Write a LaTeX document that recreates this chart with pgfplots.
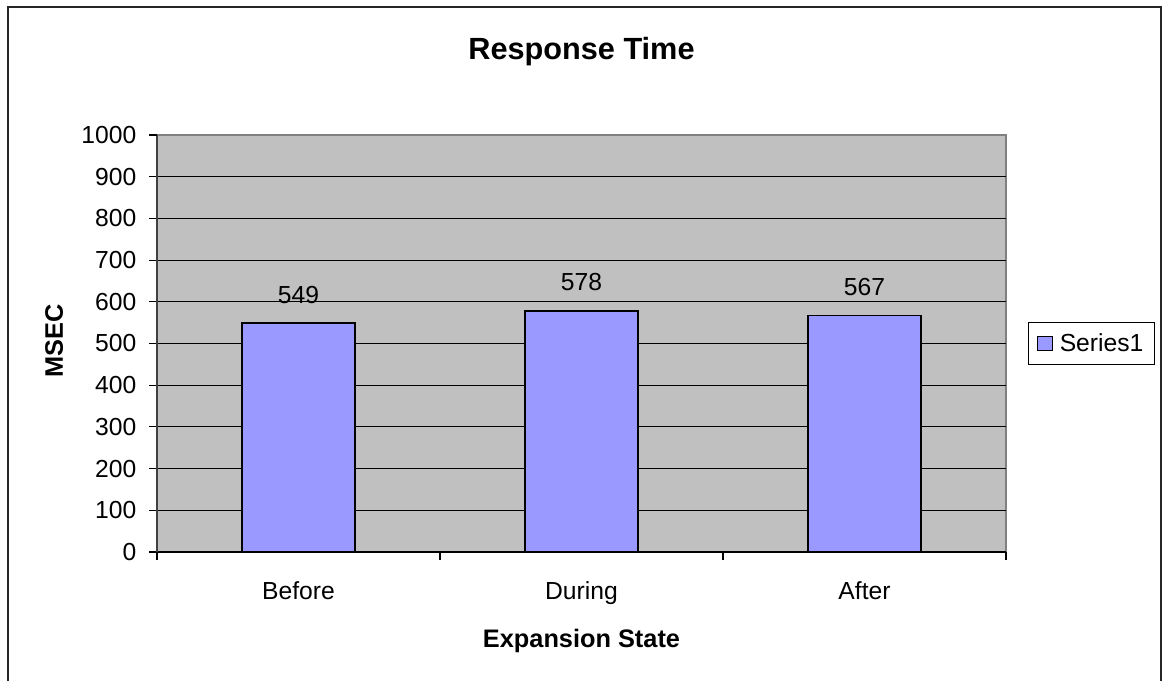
\documentclass[border=0pt]{standalone}
\usepackage{fontspec}
\setmainfont{Liberation Sans}
\usepackage{pgfplots}
\pgfplotsset{compat=1.18}

\definecolor{plotbg}{HTML}{C0C0C0}
\definecolor{barblue}{HTML}{9999FF}
\definecolor{framegray}{HTML}{808080}
\definecolor{axisgray}{HTML}{404040}

\newcommand\tickfont{\fontsize{18.5}{22}\selectfont}
\newcommand\labfont{\fontsize{19}{23}\selectfont\bfseries}
\newcommand\titfont{\fontsize{23}{27}\selectfont\bfseries}

\begin{document}
\begin{tikzpicture}
% 1 px of the reference = 0.75pt
\useasboundingbox (0,0) rectangle (875.25pt,510.75pt);
\draw[line width=1.5pt, black!85] (6pt,-5pt) -- (6pt,505.5pt) -- (870.75pt,505.5pt) -- (870.75pt,-5pt);

\begin{axis}[
    at={(117.75pt,96.75pt)}, anchor=south west,
    width=636.75pt, height=312.75pt, scale only axis,
    xmin=-0.5, xmax=2.5, ymin=0, ymax=1000,
    axis x line*=bottom, axis y line*=left,
    x axis line style={-, black, line width=0.8pt},
    y axis line style={-, axisgray, line width=1.5pt},
    axis background/.style={fill=plotbg, draw=framegray, line width=1.5pt},
    tick align=outside,
    major tick length=6pt, minor tick length=6pt,
    xtick={0,1,2}, xticklabels={Before,During,After},
    minor xtick={-0.5,0.5,1.5,2.5},
    major x tick style={draw=none},
    minor x tick style={draw=black, line width=0.8pt},
    ytick={0,100,...,900},
    extra y ticks={1000},
    extra y tick style={grid=none},
    y tick style={black, line width=0.8pt},
    ymajorgrids, grid style={black, line width=0.8pt},
    tick label style={font=\tickfont},
    xticklabel style={yshift=-12.75pt},
    yticklabel style={xshift=-6pt},
    /pgf/number format/assume math mode=true,
    /pgf/number format/1000 sep={},
    title={Response Time},
    title style={font=\titfont, at={(axis description cs:0.5,1.162)}, anchor=base},
    xlabel={Expansion State},
    xlabel style={font=\labfont, at={(axis description cs:0.5,-0.228)}, anchor=base},
    ylabel={MSEC},
    ylabel style={font=\labfont, at={(axis description cs:-0.111,0.506)}, anchor=base, rotate=0},
    legend style={at={(1.026,0.5)}, anchor=west, draw=black, line width=0.75pt,
      fill=white, font=\tickfont, inner xsep=6pt, inner ysep=6pt},
]
\addplot[ybar, bar width=0.4, fill=barblue, draw=black, line width=1.1pt,
    nodes near coords,
    every node near coord/.append style={font=\tickfont, anchor=base, yshift=15pt},
    legend image code/.code={\draw[fill=barblue, draw=black, line width=0.75pt]
      (0pt,-5.6pt) rectangle (11.25pt,5.6pt);
      \path[draw=none, fill=none] (0pt,0pt) -- (15pt,0pt);}]
  coordinates {(0,549) (1,578) (2,567)};
\addlegendentry{Series1}
\end{axis}
\end{tikzpicture}
\end{document}
